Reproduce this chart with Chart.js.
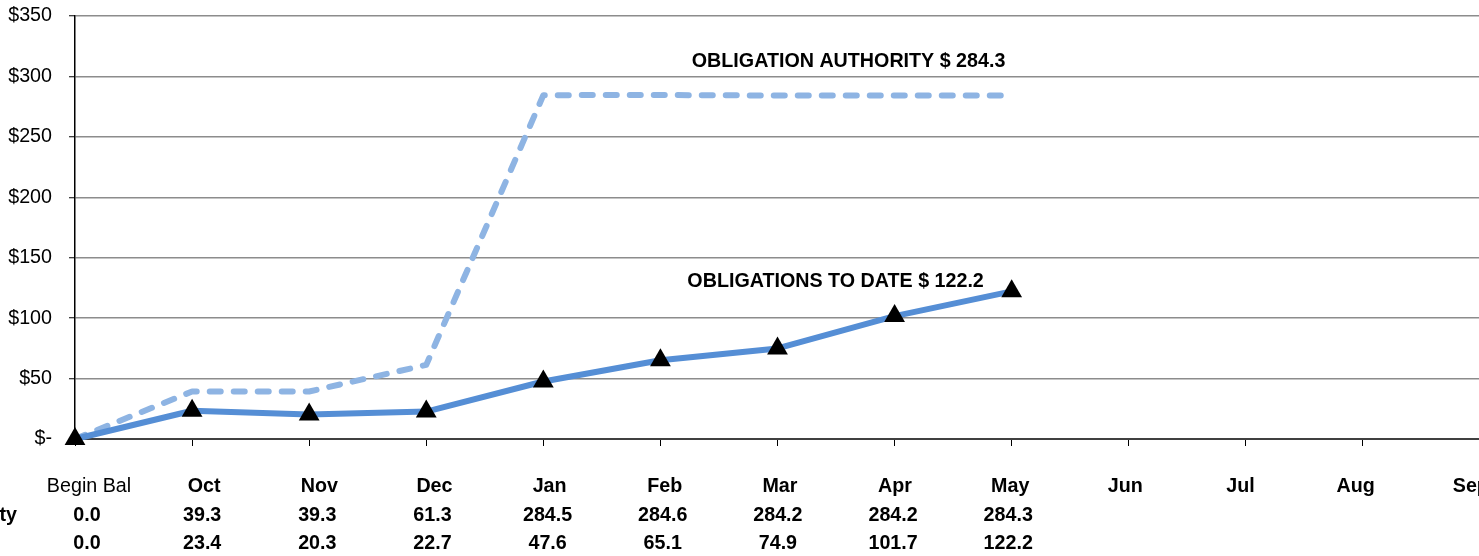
<!DOCTYPE html>
<html>
<head>
<meta charset="utf-8">
<script src="https://cdn.jsdelivr.net/npm/chart.js@4.4.1/dist/chart.umd.min.js"></script>
<style>
html,body{margin:0;padding:0;background:#fff;overflow:hidden;}
#wrap{position:relative;width:1492px;height:556px;}
</style>
</head>
<body>
<div id="wrap"><canvas id="c"></canvas></div>
<script>
const categories = ['Begin Bal','Oct','Nov','Dec','Jan','Feb','Mar','Apr','May','Jun','Jul','Aug','Sep'];
const authority = [0.0, 39.3, 39.3, 61.3, 284.5, 284.6, 284.2, 284.2, 284.3, null, null, null, null];
const obligations = [0.0, 23.4, 20.3, 22.7, 47.6, 65.1, 74.9, 101.7, 122.2, null, null, null, null];
const rowLabels = ['Obligation Authority', 'Obligations to Date'];
const yTicks = [0, 50, 100, 150, 200, 250, 300, 350];

const FONT = '"Liberation Sans", Arial, sans-serif';
const FS = 19.7;

const tablePlugin = {
  id: 'tablePlugin',
  afterDraw(chart) {
    const ctx = chart.ctx;
    const xs = chart.scales.x, ys = chart.scales.y;
    const step = xs.getPixelForValue(1) - xs.getPixelForValue(0);
    const colX = i => xs.getPixelForValue(0) + 14 + i * step * 0.9835;
    ctx.save();
    ctx.fillStyle = '#000';
    ctx.textBaseline = 'middle';
    ctx.textAlign = 'center';
    categories.forEach((c, i) => {
      ctx.font = (i === 0 ? '' : 'bold ') + FS + 'px ' + FONT;
      ctx.fillText(c, colX(i), 487);
    });
    ctx.font = 'bold ' + FS + 'px ' + FONT;
    [authority, obligations].forEach((arr, r) => {
      const y = 516 + r * 28;
      arr.forEach((v, i) => {
        if (v === null) return;
        ctx.textAlign = 'center';
        ctx.fillText(v.toFixed(1), colX(i) - 2, y);
      });
      ctx.textAlign = 'right';
      ctx.fillText(rowLabels[r], r === 0 ? 17 : -4, y);
    });
    const lastA = authority.filter(v => v !== null).slice(-1)[0];
    const lastO = obligations.filter(v => v !== null).slice(-1)[0];
    ctx.textAlign = 'center';
    ctx.fillText('OBLIGATION AUTHORITY $ ' + lastA.toFixed(1), xs.getPixelForValue(7) - 46, ys.getPixelForValue(lastA) - 34);
    ctx.fillText('OBLIGATIONS TO DATE $ ' + lastO.toFixed(1), xs.getPixelForValue(7) - 59, ys.getPixelForValue(lastO) - 10);
    ctx.restore();
  }
};

new Chart(document.getElementById('c'), {
  type: 'line',
  data: {
    labels: categories,
    datasets: [
      {
        label: 'Obligation Authority',
        data: authority,
        borderColor: '#8EB4E3',
        borderWidth: 6,
        borderDash: [11, 13],
        borderCapStyle: 'round',
        borderJoinStyle: 'round',
        pointRadius: 0,
        tension: 0,
        clip: false,
        order: 2
      },
      {
        label: 'Obligations to Date',
        data: obligations,
        borderColor: '#558ED5',
        borderWidth: 6,
        borderJoinStyle: 'round',
        pointStyle: 'triangle',
        pointRadius: 12,
        pointBackgroundColor: '#000',
        pointBorderColor: '#000',
        pointBorderWidth: 0,
        tension: 0,
        clip: false,
        order: 1
      }
    ]
  },
  plugins: [tablePlugin],
  options: {
    responsive: true,
    maintainAspectRatio: false,
    animation: false,
    layout: { padding: { left: 0, right: 9, top: 16, bottom: 0 } },
    plugins: { legend: { display: false }, tooltip: { enabled: false } },
    scales: {
      x: {
        type: 'category',
        offset: false,
        grid: { display: true, drawOnChartArea: false, drawTicks: true, tickLength: 7, tickColor: '#000', tickWidth: 1 },
        border: { display: true, color: '#404040', width: 2 },
        ticks: { display: false },
        afterFit(scale) { scale.height = 117; scale.paddingLeft = 0; scale.paddingRight = 0; scale.paddingTop = 0; scale.paddingBottom = 0; }
      },
      y: {
        min: 0, max: 350,
        afterBuildTicks(scale) { scale.ticks = yTicks.map(v => ({ value: v })); },
        grid: { color: '#8c8c8c', lineWidth: 1.5, drawTicks: true, tickLength: 6, tickColor: '#000', tickWidth: 1 },
        border: { display: true, color: '#000', width: 1.5 },
        ticks: {
          padding: 17,
          color: '#000',
          font: { family: FONT, size: FS },
          callback: v => v === 0 ? '$-' : '$' + v
        },
        afterFit(scale) { scale.width = 75; scale.paddingTop = 0; scale.paddingBottom = 0; scale.paddingLeft = 0; scale.paddingRight = 0; }
      }
    }
  }
});
</script>
</body>
</html>
